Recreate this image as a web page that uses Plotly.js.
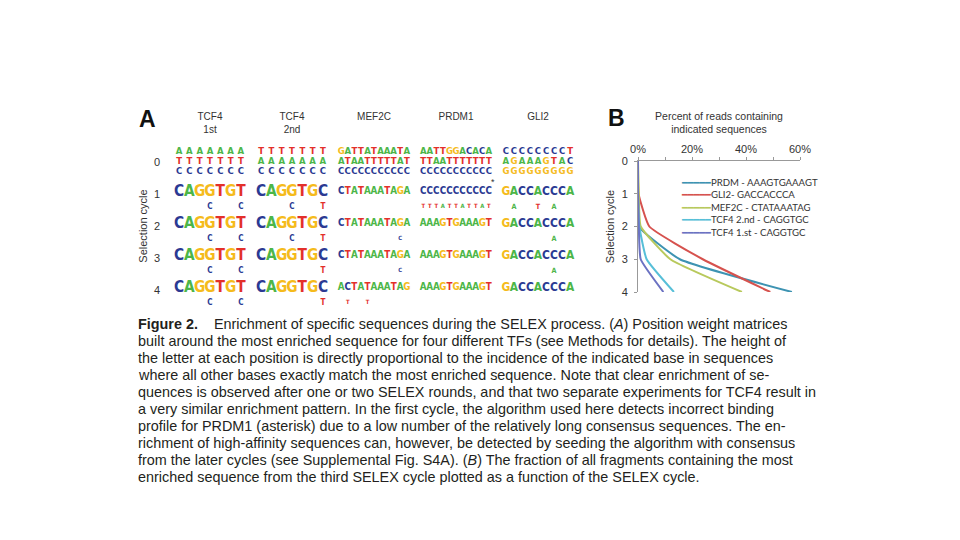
<!DOCTYPE html>
<html><head><meta charset="utf-8">
<script src="https://cdn.plot.ly/plotly-3.0.1.min.js"></script>
<style>html,body{margin:0;padding:0;background:#fff}#chart{width:960px;height:540px}</style>
</head><body><div id="chart"></div>
<script>
// ---------- Panel B: percent of reads containing indicated sequences ----------
const cycles = [0, 1, 2, 3, 4];
const seriesNames = ['PRDM - AAAGTGAAAGT', 'GLI2- GACCACCCA', 'MEF2C - CTATAAATAG', 'TCF4 2.nd - CAGGTGC', 'TCF4 1.st - CAGGTGC'];
const prdmPct = [0, 0, 0.3, 15.5, 57];
const gli2Pct = [0, 0.2, 4.2, 24, 49];
const mef2cPct = [0, 0.3, 1, 12, 38.5];
const tcf4SecondPct = [0, 0, 0.5, 3.2, 13.3];
const tcf4FirstPct = [0, 0, 0.3, 1, 9.4];
const xTicks = [0, 20, 40, 60];
const xTickText = ['0%', '20%', '40%', '60%'];

// ---------- Panel A: sequence logos (layers top->bottom separated by '/') ----------
const logoColumns = ['TCF4<br>1st', 'TCF4<br>2nd', 'MEF2C<br> ', 'PRDM1<br> ', 'GLI2<br> '];
const logoCycles = [0, 1, 2, 3, 4];
const logoTCF4first = ['AAAAAAA/TTTTTTT/CCCCCCC', 'CAGGTGT/   C  C', 'CAGGTGT/   C  C', 'CAGGTGT/   C  C', 'CAGGTGT/   C  C'];
const logoTCF4second = ['TTTTTTT/AAAAAAA/CCCCCCC', 'CAGGTGC/   C  T', 'CAGGTGC/   C  T', 'CAGGTGC/      T', 'CAGGTGC/      T'];
const logoMEF2C = ['GATTATAAATA/ATAATTTTTAT/CCCCCCCCCCC', 'CTATAAATAGA', 'CTATAAATAGA/         C ', 'CTATAAATAGA/         C ', 'ACTATAAATAG/ T  T      '];
const logoPRDM1 = ['AATTGGACACA/TTAATTTTTTT/CCCCCCCCCCC', 'CCCCCCCCCCC/TTTATTATTAT', 'AAAGTGAAAGT', 'AAAGTGAAAGT', 'AAAGTGAAAGT'];
const logoGLI2 = ['CCCCCCCCT/AGAAAGTAC/GGGGGGGGG', 'GACCACCCA/ A  T A  ', 'GACCACCCA/      A  ', 'GACCACCCA/      A  ', 'GACCACCCA'];
const baseColors = {A: '#4cb648', C: '#2b3a93', G: '#f5bb1c', T: '#e3302a'};

// pick the narrowest suitable font that exists
function hasFont(f) {
  const c = document.createElement('canvas').getContext('2d');
  const s = 'CAGTWmi';
  c.font = 'bold 100px monospace'; const a = c.measureText(s).width;
  c.font = 'bold 100px "' + f + '", monospace'; const b = c.measureText(s).width;
  c.font = 'bold 100px serif'; const a2 = c.measureText(s).width;
  c.font = 'bold 100px "' + f + '", serif'; const b2 = c.measureText(s).width;
  return a !== b || a2 !== b2;
}
const candidates = ['Noto Sans ExtraCondensed', 'Noto Sans Condensed', 'Liberation Sans Narrow', 'DejaVu Sans Condensed', 'Roboto Condensed', 'Noto Sans CJK SC', 'Liberation Sans'];
const logoFont = candidates.find(hasFont) || 'Liberation Sans';
const cctx = document.createElement('canvas').getContext('2d');
cctx.font = 'bold 100px "' + logoFont + '"';
const emRatio = cctx.measureText('ACGT').width / 400;

const lx = [], ly = [], lt = [], ls = [], lc = [];
const colPx = 82, cellFrac = 0.88;
[logoTCF4first, logoTCF4second, logoMEF2C, logoPRDM1, logoGLI2].forEach((col, ci) => {
  col.forEach((cell, ri) => {
    const layers = cell.split('/');
    const n = layers[0].length;
    const slot = cellFrac * colPx / n;
    const fit = slot / emRatio;
    layers.forEach((layer, li) => {
      let yOff, size;
      if (ri === 0) { yOff = [-0.31, 0.0, 0.31][li]; size = Math.min(fit, 9.5); }
      else if (li === 0) { yOff = -0.07; size = Math.min(fit, 27); }
      else { yOff = 0.40; size = Math.min(fit * 0.6, 8); }
      for (let k = 0; k < layer.length; k++) {
        const ch = layer[k];
        if (ch === ' ') continue;
        lx.push(ci + (1 - cellFrac) / 2 + (k + 0.5) * cellFrac / n);
        ly.push(logoCycles[ri] + yOff);
        lt.push(ch); ls.push(size); lc.push(baseColors[ch]);
      }
    });
  });
});

const seriesData = [prdmPct, gli2Pct, mef2cPct, tcf4SecondPct, tcf4FirstPct];
const seriesColors = ['#3d93b2', '#d6524e', '#b8c95c', '#57bfd8', '#6b72c2'];
const traces = seriesData.map((d, i) => ({
  type: 'scatter', mode: 'lines', x: d, y: cycles, name: seriesNames[i],
  xaxis: 'x', yaxis: 'y', cliponaxis: false, showlegend: false,
  line: {color: seriesColors[i], width: 2, shape: 'spline', smoothing: 0.4},
  hoverinfo: 'skip'
}));
traces.push({
  type: 'scatter', mode: 'text', x: lx, y: ly, text: lt, xaxis: 'x2', yaxis: 'y2',
  textposition: 'middle center', cliponaxis: false, showlegend: false, hoverinfo: 'skip',
  textfont: {family: logoFont, size: ls, color: lc, weight: 'bold'}
});

const captionLines = [
  '<b>Figure 2.</b>\u00a0\u00a0\u00a0 Enrichment of specific sequences during the SELEX process. (<i>A</i>) Position weight matrices',
  'built around the most enriched sequence for four different TFs (see Methods for details). The height of',
  'the letter at each position is directly proportional to the incidence of the indicated base in sequences',
  'where all other bases exactly match the most enriched sequence. Note that clear enrichment of se-',
  'quences is observed after one or two SELEX rounds, and that two separate experiments for TCF4 result in',
  'a very similar enrichment pattern. In the first cycle, the algorithm used here detects incorrect binding',
  'profile for PRDM1 (asterisk) due to a low number of the relatively long consensus sequences. The en-',
  'richment of high-affinity sequences can, however, be detected by seeding the algorithm with consensus',
  'from the later cycles (see Supplemental Fig. S4A). (<i>B</i>) The fraction of all fragments containing the most',
  'enriched sequence from the third SELEX cycle plotted as a function of the SELEX cycle.'
];
const annotations = captionLines.map((t, i) => ({
  xref: 'paper', yref: 'paper', x: 136 / 960, y: 1 - (324 + 17 * i) / 540,
  xanchor: 'left', yanchor: 'middle', showarrow: false, text: t,
  font: {family: 'Liberation Sans', size: 14.4, color: '#231f20'}
}));
// legend built from the series names and colours
const legendText = seriesNames.map((n, i) =>
  '<span style="color:' + seriesColors[i] + ';font-family:DejaVu Sans">\u2501\u2501\u2501\u2501\u2501</span>' + n).join('<br>');
annotations.push(
  {xref: 'paper', yref: 'paper', x: 679 / 960, y: 1 - 175 / 540, xanchor: 'left', yanchor: 'top',
   align: 'left', showarrow: false, text: legendText, font: {family: 'Lato', size: 9.6, color: '#333'}},
  {xref: 'paper', yref: 'paper', x: 147 / 960, y: 1 - 119 / 540, xanchor: 'center', yanchor: 'middle',
   text: '<b>A</b>', showarrow: false, font: {family: 'Liberation Sans', size: 23, color: '#111'}},
  {xref: 'paper', yref: 'paper', x: 616 / 960, y: 1 - 118 / 540, xanchor: 'center', yanchor: 'middle',
   text: '<b>B</b>', showarrow: false, font: {family: 'Liberation Sans', size: 23, color: '#111'}},
  {xref: 'x2', yref: 'y2', x: 3 + 0.95, y: 0.62, text: '*', showarrow: false,
   font: {family: 'Liberation Sans', size: 9, color: '#333'}}
);

const axisFont = {family: 'Liberation Sans', size: 11, color: '#333'};
const layout = {
  width: 960, height: 540, margin: {l: 0, r: 0, t: 0, b: 0},
  paper_bgcolor: '#fff', plot_bgcolor: 'rgba(0,0,0,0)',
  showlegend: false,
  xaxis: {domain: [638 / 960, 800 / 960], range: [0, 60], side: 'top', anchor: 'y',
          tickvals: xTicks, ticktext: xTickText, ticks: 'outside', ticklen: 3, tickcolor: '#999',
          showline: true, linecolor: '#999', showgrid: false, zeroline: false, tickfont: axisFont,
          minor: {tickvals: [10, 30, 50], ticks: 'outside', ticklen: 3, tickcolor: '#999'},
          title: {text: 'Percent of reads containing<br>indicated sequences',
                  font: {family: 'Liberation Sans', size: 10.5, color: '#333'}, standoff: 6}},
  yaxis: {domain: [1 - 292 / 540, 1 - 161 / 540], range: [4, 0], anchor: 'x', tickvals: cycles,
          ticks: 'outside', ticklen: 3, tickcolor: '#999', showline: true, linecolor: '#999',
          showgrid: false, zeroline: false, tickfont: axisFont, ticklabelstandoff: 4,
          title: {text: 'Selection cycle', font: axisFont, standoff: 4}},
  xaxis2: {domain: [169 / 960, 579 / 960], range: [0, 5], anchor: 'y2', side: 'top',
           tickvals: logoColumns.map((c, i) => i + 0.5), ticktext: logoColumns, ticks: '',
           showline: false, showgrid: false, zeroline: false, ticklabelstandoff: 10,
           tickfont: {family: 'Liberation Sans', size: 10, color: '#333'}},
  yaxis2: {domain: [1 - 306 / 540, 1 - 146 / 540], range: [4.5, -0.5], anchor: 'x2', tickvals: logoCycles,
           ticks: '', showline: false, showgrid: false, zeroline: false, tickfont: axisFont, ticklabelstandoff: 8,
           title: {text: 'Selection cycle', font: axisFont, standoff: 4}},
  annotations: annotations
};
Plotly.newPlot('chart', traces, layout, {displayModeBar: false, staticPlot: true});
</script></body></html>
